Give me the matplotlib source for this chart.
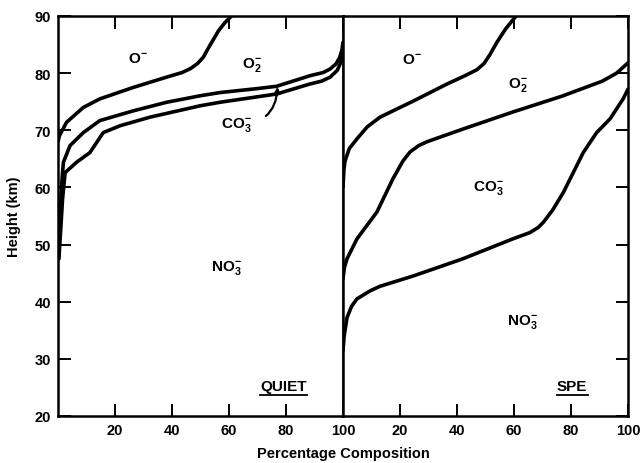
"""
Ion composition vs height, quiet and SPE conditions
"""
import matplotlib

matplotlib.use("Agg")
import matplotlib.pyplot as plt

plt.rcParams["font.family"] = ["Liberation Sans", "DejaVu Sans"]
plt.rcParams["font.weight"] = "bold"
plt.rcParams["mathtext.fontset"] = "custom"
plt.rcParams["mathtext.rm"] = "Liberation Sans:bold"
plt.rcParams["mathtext.it"] = "Liberation Sans:bold"
plt.rcParams["mathtext.bf"] = "Liberation Sans:bold"

# cumulative boundaries (percent), heights in km
# QUIET panel
quiet_o_x = [0.0, 0.5, 3.0, 8.9, 14.7, 26.4, 38.1, 43.5, 46.5, 49.0, 51.0, 53.0,
             56.3, 58.5, 60.9]
quiet_o_y = [68.0, 69.05, 71.4, 74.0, 75.5, 77.5, 79.3, 80.1, 80.8, 81.7, 82.8, 84.6,
             87.4, 88.8, 90.0]

quiet_o2_x = [0.2, 0.5, 1.0, 1.5, 1.9, 4.2, 8.9, 14.7, 26.4, 38.1, 50.0, 56.8,
              70.0, 76.7, 88.4, 93.0, 95.4, 97.5, 98.8, 99.6, 100.0]
quiet_o2_y = [47.5, 52.0, 58.0, 62.0, 64.4, 67.3, 69.6, 71.7, 73.4, 74.9, 76.05, 76.6,
              77.3, 77.7, 79.55, 80.1, 80.7, 81.6, 82.7, 84.0, 85.4]

quiet_co3_x = [0.3, 1.0, 1.6, 2.5, 6.5, 11.2, 13.6, 15.9, 21.8, 32.3, 50.0, 56.8,
               76.7, 88.4, 92.5, 95.5, 98.0, 99.3, 100.0]
quiet_co3_y = [47.5, 53.0, 58.0, 62.6, 64.4, 66.1, 67.9, 69.6, 70.8, 72.3, 74.3, 74.9,
               76.35, 78.1, 78.6, 79.3, 80.5, 82.0, 83.7]

# SPE panel
spe_o_x = [0.0, 0.3, 0.7, 2.2, 4.9, 8.5, 13.0, 24.6, 36.5, 43.0, 47.0, 49.5, 51.5,
           54.0, 57.0, 60.4]
spe_o_y = [60.0, 63.0, 64.6, 66.8, 68.5, 70.6, 72.3, 75.1, 78.1, 79.6, 80.6, 81.7,
           83.2, 85.4, 87.7, 89.8]

spe_o2_x = [0.0, 0.5, 1.4, 4.9, 11.9, 17.5, 21.0, 23.5, 26.5, 29.5, 42.0, 59.6,
            77.0, 91.0, 96.0, 100.0]
spe_o2_y = [44.0, 46.0, 47.5, 51.0, 55.7, 61.5, 64.6, 66.2, 67.3, 68.0, 70.2, 73.2,
            76.0, 78.6, 80.0, 81.8]

spe_co3_x = [0.0, 0.4, 1.4, 3.0, 4.9, 9.5, 13.0, 24.6, 42.0, 59.6, 65.6, 68.5,
             70.3, 73.5, 77.3, 80.8, 84.3, 89.0, 93.7, 98.3, 100.0]
spe_co3_y = [31.5, 34.0, 37.2, 39.2, 40.5, 41.9, 42.7, 44.5, 47.5, 51.0, 52.1, 53.0,
             53.9, 56.0, 59.1, 62.6, 66.1, 69.6, 72.0, 75.5, 77.2]

# ion labels: (text, x, y)
quiet_labels = [
    (r"$\mathregular{O^{-}}$", 28, 82.6),
    (r"$\mathregular{O_2^{-}}$", 68, 81.6),
    (r"$\mathregular{NO_3^{-}}$", 59, 46.0),
]
spe_labels = [
    (r"$\mathregular{O^{-}}$", 24, 82.5),
    (r"$\mathregular{O_2^{-}}$", 61.5, 78.1),
    (r"$\mathregular{CO_3^{-}}$", 51, 60.0),
    (r"$\mathregular{NO_3^{-}}$", 63, 36.7),
]

x_ticks = [20, 40, 60, 80, 100]
y_ticks = [20, 30, 40, 50, 60, 70, 80, 90]

fig = plt.figure(figsize=(6.41, 4.64), dpi=100)
ax_q = fig.add_axes([58 / 641, 1 - 417 / 464, 285 / 641, 400 / 464])
ax_s = fig.add_axes([343 / 641, 1 - 417 / 464, 285 / 641, 400 / 464])

line_kw = dict(color="black", lw=2.6, solid_joinstyle="round", solid_capstyle="round")

ax_q.plot(quiet_o_x, quiet_o_y, **line_kw)
ax_q.plot(quiet_o2_x, quiet_o2_y, **line_kw)
ax_q.plot(quiet_co3_x, quiet_co3_y, **line_kw)

ax_s.plot(spe_o_x, spe_o_y, **line_kw)
ax_s.plot(spe_o2_x, spe_o2_y, **line_kw)
ax_s.plot(spe_co3_x, spe_co3_y, **line_kw)

for ax in (ax_q, ax_s):
    ax.set_xlim(0, 100)
    ax.set_ylim(20, 90)
    ax.set_xticks(x_ticks)
    ax.set_xticklabels([str(t) for t in x_ticks])
    ax.set_yticks(y_ticks)
    for s in ax.spines.values():
        s.set_linewidth(1.8)
    ax.tick_params(direction="in", length=9, width=1.4, labelsize=10.5, pad=5)

ax_q.tick_params(top=True, right=False, left=True)
ax_q.set_yticklabels([str(t) for t in y_ticks])
ax_s.tick_params(top=True, right=True, left=False, labelleft=False)

for txt, x, y in quiet_labels:
    ax_q.text(x, y, txt, ha="center", va="center", fontsize=11)
for txt, x, y in spe_labels:
    ax_s.text(x, y, txt, ha="center", va="center", fontsize=11)

# CO3- label in the quiet panel, with its pointer into the thin layer
ax_q.annotate(
    r"$\mathregular{CO_3^{-}}$",
    xy=(77, 77.6),
    xytext=(62.7, 71.1),
    ha="center",
    va="center",
    fontsize=11,
    arrowprops=dict(arrowstyle="-|>,head_length=0.3,head_width=0.15", color="black",
                    lw=1.6, connectionstyle="arc3,rad=0.5", shrinkA=9, shrinkB=0),
)

ax_q.text(79, 25.2, "QUIET", ha="center", va="center", fontsize=11)
ax_q.plot([71, 87.5], [23.7, 23.7], color="black", lw=1.3)
ax_s.text(80.4, 25.2, "SPE", ha="center", va="center", fontsize=11)
ax_s.plot([75, 86], [23.7, 23.7], color="black", lw=1.3)

fig.text(14 / 641, 1 - 217 / 464, "Height (km)", rotation=90, ha="center", va="center",
         fontsize=10.5)
fig.text(343 / 641, 1 - 454 / 464, "Percentage Composition", ha="center", va="center",
         fontsize=10.5)

plt.savefig("out.png", dpi=100)
